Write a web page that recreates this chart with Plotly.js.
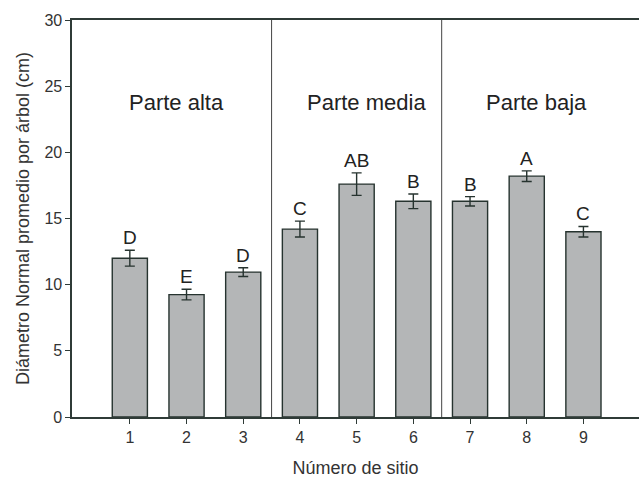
<!DOCTYPE html>
<html>
<head>
<meta charset="utf-8">
<script src="https://cdn.plot.ly/plotly-3.0.1.min.js"></script>
<style>html,body{margin:0;padding:0;background:#fff;}#chart{width:639px;height:481px;}</style>
</head>
<body>
<div id="chart"></div>
<script>
var sites = [1, 2, 3, 4, 5, 6, 7, 8, 9];
var tickLabels = ["1", "2", "3", "4", "5", "6", "7", "8", "9"];
var means = [12.0, 9.25, 10.95, 14.2, 17.6, 16.3, 16.3, 18.2, 14.0];
var errors = [0.6, 0.4, 0.33, 0.6, 0.85, 0.55, 0.35, 0.4, 0.4];
var letters = ["D", "E", "D", "C", "AB", "B", "B", "A", "C"];
var zoneNames = ["Parte alta", "Parte media", "Parte baja"];
var zoneCenters = [1.83, 5.18, 8.17];
var zoneLabelY = 23.8;
var separators = [3.5, 6.5];

var font = "'Liberation Sans', Arial, sans-serif";
var axisColor = "#2f3b37";

var annotations = [];
for (var i = 0; i < sites.length; i++) {
  annotations.push({
    x: sites[i], y: means[i] + errors[i], xref: "x", yref: "y",
    text: letters[i], showarrow: false, yanchor: "bottom", yshift: 0,
    font: {family: font, size: 19, color: "#222"}
  });
}
for (var j = 0; j < zoneNames.length; j++) {
  annotations.push({
    x: zoneCenters[j], y: zoneLabelY, xref: "x", yref: "y",
    text: zoneNames[j], showarrow: false, yanchor: "middle",
    font: {family: font, size: 22, color: "#222"}
  });
}
var shapes = separators.map(function (s) {
  return {type: "line", xref: "x", yref: "y", x0: s, x1: s, y0: 0, y1: 30,
          line: {color: "#444", width: 1}};
});

var trace = {
  type: "bar", x: sites, y: means, width: 0.62,
  marker: {color: "#b4b6b7", line: {color: "#26332f", width: 1.4}},
  error_y: {type: "data", array: errors, visible: true, color: "#26332f", thickness: 1.4, width: 5}
};

var layout = {
  width: 639, height: 481,
  margin: {l: 72, r: 0, t: 20, b: 64},
  paper_bgcolor: "#fff", plot_bgcolor: "#fff",
  showlegend: false,
  xaxis: {
    range: [-0.02, 9.98], tickmode: "array", tickvals: sites, ticktext: tickLabels,
    showgrid: false, zeroline: false, showline: true, linecolor: axisColor, linewidth: 1.6,
    mirror: true, ticks: "outside", ticklen: 5, tickcolor: axisColor,
    tickfont: {family: font, size: 16, color: "#333"},
    title: {text: "Número de sitio", font: {family: font, size: 18, color: "#333"}, standoff: 16}
  },
  yaxis: {
    range: [0, 30], tickvals: [0, 5, 10, 15, 20, 25, 30],
    showgrid: false, zeroline: false, showline: true, linecolor: axisColor, linewidth: 1.6,
    ticks: "outside", ticklen: 5, tickcolor: axisColor,
    tickfont: {family: font, size: 16, color: "#333"},
    title: {text: "Diámetro Normal promedio por árbol (cm)", font: {family: font, size: 18, color: "#333"}, standoff: 10}
  },
  annotations: annotations,
  shapes: shapes
};
Plotly.newPlot("chart", [trace], layout, {displayModeBar: false, staticPlot: true});
</script>
</body>
</html>
